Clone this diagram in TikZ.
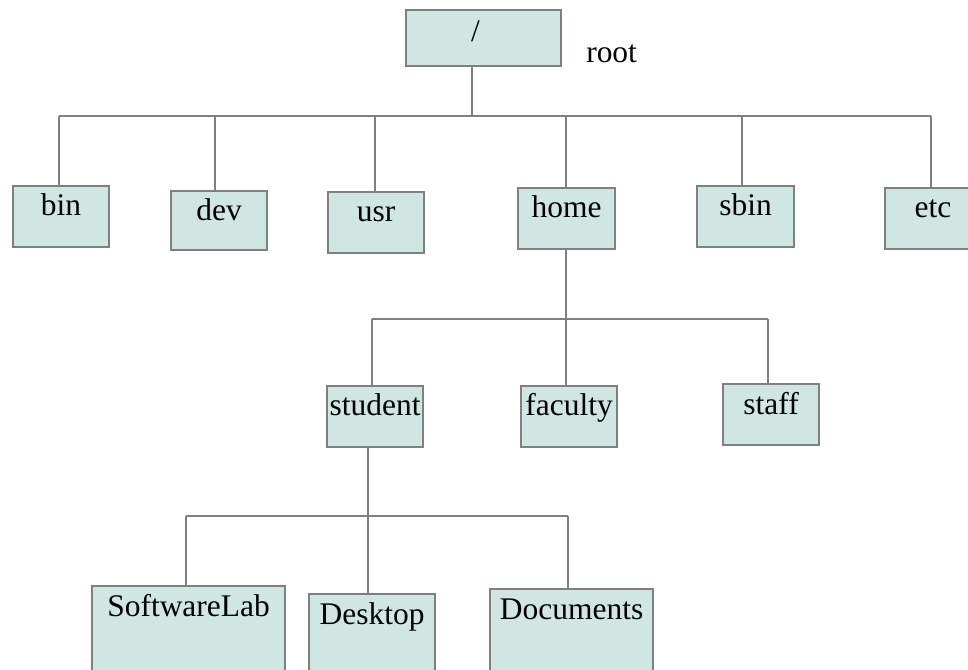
\documentclass[tikz,border=0pt]{standalone}
\usepackage{fontspec}
\setmainfont{Liberation Serif}
\definecolor{boxfill}{RGB}{208,230,227}
\definecolor{linegray}{RGB}{128,128,128}
\begin{document}
\begin{tikzpicture}[x=0.75pt,y=-0.75pt,
  box/.style={draw=linegray,line width=1.6pt,fill=boxfill,rectangle,inner sep=0pt,anchor=north west},
  lbl/.style={anchor=base,inner sep=0pt,font=\fontsize{23.6}{28}\selectfont},
  conn/.style={draw=linegray,line width=1.3pt}]
\useasboundingbox (0,0) rectangle (968,670);
\clip (0,0) rectangle (968,670);
% boxes
\node[box,minimum width=155*0.75pt,minimum height=56*0.75pt] (root) at (405,9) {};
\node[box,minimum width=96*0.75pt,minimum height=61*0.75pt] (bin) at (12,185) {};
\node[box,minimum width=96*0.75pt,minimum height=59*0.75pt] (dev) at (170,190) {};
\node[box,minimum width=96*0.75pt,minimum height=61*0.75pt] (usr) at (327,191) {};
\node[box,minimum width=97*0.75pt,minimum height=61*0.75pt] (home) at (517,187) {};
\node[box,minimum width=97*0.75pt,minimum height=61*0.75pt] (sbin) at (696,185) {};
\node[box,minimum width=96*0.75pt,minimum height=61*0.75pt] (etc) at (884,187) {};
\node[box,minimum width=96*0.75pt,minimum height=61*0.75pt] (student) at (326,385) {};
\node[box,minimum width=96*0.75pt,minimum height=61*0.75pt] (faculty) at (520,385) {};
\node[box,minimum width=96*0.75pt,minimum height=61*0.75pt] (staff) at (722,383) {};
\node[box,minimum width=193*0.75pt,minimum height=100*0.75pt] (swlab) at (91,585) {};
\node[box,minimum width=126*0.75pt,minimum height=100*0.75pt] (desk) at (308,593) {};
\node[box,minimum width=163*0.75pt,minimum height=100*0.75pt] (docs) at (489,588) {};
% labels
\node[lbl] (l-root) at ([xshift=-8*0.75pt,yshift=-33*0.75pt]root.north) {/};
\node[lbl,anchor=base west] (rootname) at (586,63) {root};
\foreach \n/\t in {bin/bin,dev/dev,usr/usr,home/home,sbin/sbin,etc/etc,student/student,faculty/faculty,staff/staff,swlab/SoftwareLab,desk/Desktop,docs/Documents}
  \node[lbl] (l-\n) at ([yshift=-31*0.75pt]\n.north) {\t};
% level 1 connectors
\coordinate (j1) at (472,116);
\coordinate (t-bin) at (59,116);
\coordinate (t-dev) at (215,116);
\coordinate (t-usr) at (375,116);
\coordinate (t-home) at (566,116);
\coordinate (t-sbin) at (742,116);
\coordinate (t-etc) at (931,116);
\draw[conn] (root.south -| j1) -- (j1);
\draw[conn] (t-bin) -- (t-etc);
\foreach \n in {bin,dev,usr,home,sbin,etc}
  \draw[conn] (t-\n) -- (t-\n |- \n.north);
% level 2
\coordinate (j2) at (566,319);
\coordinate (t-student) at (372,319);
\coordinate (t-faculty) at (566,319);
\coordinate (t-staff) at (768,319);
\draw[conn] (home.south -| j2) -- (j2);
\draw[conn] (t-student) -- (t-staff);
\foreach \n in {student,faculty,staff}
  \draw[conn] (t-\n) -- (t-\n |- \n.north);
% level 3
\coordinate (j3) at (368,516);
\coordinate (t-swlab) at (186,516);
\coordinate (t-desk) at (368,516);
\coordinate (t-docs) at (568,516);
\draw[conn] (student.south -| j3) -- (j3);
\draw[conn] (t-swlab) -- (t-docs);
\foreach \n in {swlab,desk,docs}
  \draw[conn] (t-\n) -- (t-\n |- \n.north);
\end{tikzpicture}
\end{document}
